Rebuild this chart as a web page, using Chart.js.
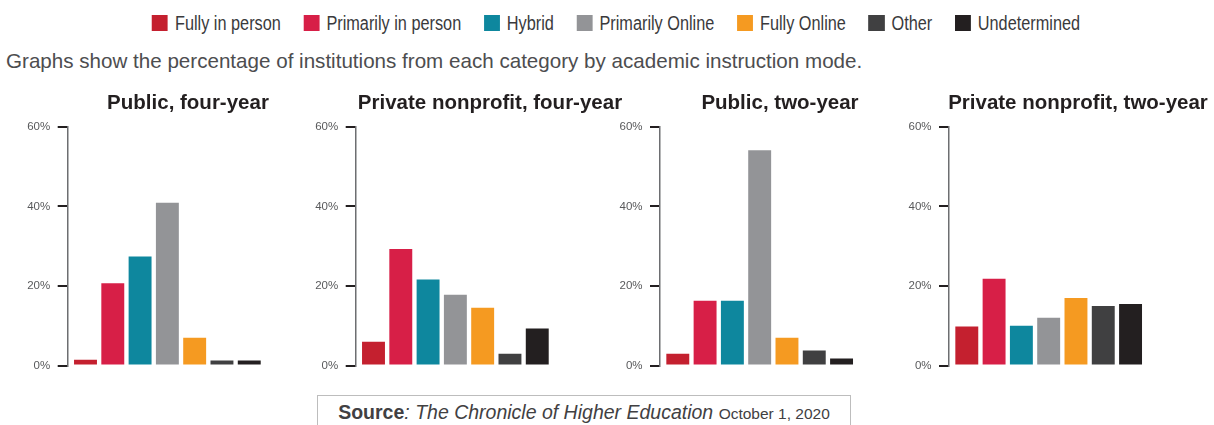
<!DOCTYPE html>
<html>
<head>
<meta charset="utf-8">
<script src="https://cdn.jsdelivr.net/npm/chart.js@4.4.1/dist/chart.umd.min.js"></script>
<style>
  html, body { margin: 0; padding: 0; background: #ffffff; width: 1214px; height: 425px; overflow: hidden; position: relative; }
  body { font-family: 'Liberation Sans', Arial, sans-serif; }
  #legend { position: absolute; top: 12px; left: 0; width: 1232px; display: flex; justify-content: center; align-items: center; gap: 27px; transform: scaleX(0.835); transform-origin: 50% 50%; }
  .item { display: flex; align-items: center; font-size: 19.5px; color: #3a3a3c; line-height: 22px; }
  .sw { width: 19.2px; height: 16px; margin-right: 8.4px; }
  #subtitle { position: absolute; left: 6px; top: 47px; font-size: 20.6px; color: #4d4d4f; line-height: 28px; white-space: nowrap; }
  .cw { position: absolute; top: 80px; height: 300px; }
  #source { position: absolute; left: 317px; top: 395px; width: 534px; height: 40px; border: 1.5px solid #bdbdbd; box-sizing: border-box; text-align: center; color: #414042; white-space: nowrap; }
  #source .t { position: relative; top: 5px; font-size: 19.5px; }
  #source b { font-weight: bold; }
  #source i { font-style: italic; }
  #source .d { font-size: 15.5px; }
</style>
</head>
<body>
<div id="legend"></div>
<div id="subtitle">Graphs show the percentage of institutions from each category by academic instruction mode.</div>
<div class="cw" style="left:0px;width:376px"><canvas id="c1"></canvas></div>
<div class="cw" style="left:300px;width:380px"><canvas id="c2"></canvas></div>
<div class="cw" style="left:600px;width:360px"><canvas id="c3"></canvas></div>
<div class="cw" style="left:900px;width:356px"><canvas id="c4"></canvas></div>
<div id="source"><span class="t"><b>Source</b><i>: The Chronicle of Higher Education</i> <span class="d">October 1, 2020</span></span></div>
<script>
// ---- data ----
const categories = ['Fully in person', 'Primarily in person', 'Hybrid', 'Primarily Online', 'Fully Online', 'Other', 'Undetermined'];
const colors = ['#C4202F', '#D71F47', '#0E879E', '#939497', '#F59A21', '#404041', '#231F20'];
const chartTitles = ['Public, four-year', 'Private nonprofit, four-year', 'Public, two-year', 'Private nonprofit, two-year'];
const publicFourYear = [1.5, 20.7, 27.4, 40.9, 7.0, 1.3, 1.3];
const privateFourYear = [6.0, 29.3, 21.6, 17.8, 14.5, 3.0, 9.3];
const publicTwoYear = [3.0, 16.3, 16.3, 54.1, 7.0, 3.8, 1.8];
const privateTwoYear = [9.8, 21.8, 10.0, 12.0, 17.0, 15.0, 15.5];
const yTicks = [0, 20, 40, 60];

const FONT = "'Liberation Sans', Arial, sans-serif";

// legend
const lg = document.getElementById('legend');
categories.forEach((c, i) => {
  const it = document.createElement('div'); it.className = 'item';
  const sw = document.createElement('span'); sw.className = 'sw'; sw.style.background = colors[i];
  const tx = document.createElement('span'); tx.textContent = c;
  it.appendChild(sw); it.appendChild(tx); lg.appendChild(it);
});

// layout per chart: [canvas id, left axis width, right spacer width]
const layouts = [
  ['c1', 67.7, 113.1],
  ['c2', 55.7, 129.1],
  ['c3', 60.0, 104.8],
  ['c4', 49.0, 111.8]
];
const series = [publicFourYear, privateFourYear, publicTwoYear, privateTwoYear];

series.forEach((vals, k) => {
  const [id, yW, rW] = layouts[k];
  new Chart(document.getElementById(id), {
    type: 'bar',
    data: {
      datasets: [{
        label: chartTitles[k],
        data: vals.map((v, i) => ({ x: i, y: v })),
        backgroundColor: colors,
        borderWidth: 0,
        barPercentage: 0.84,
        categoryPercentage: 1.0
      }]
    },
    options: {
      responsive: true,
      maintainAspectRatio: false,
      animation: false,
      layout: { padding: { top: 11, bottom: 14, left: 0, right: 0 } },
      plugins: {
        legend: { display: false },
        tooltip: { enabled: false },
        title: {
          display: true,
          text: chartTitles[k],
          color: '#231F20',
          font: { family: FONT, size: 20.5, weight: 'bold', lineHeight: 1.2 },
          padding: { top: 0, bottom: 11.1 }
        }
      },
      scales: {
        x: {
          type: 'linear', display: false, offset: false,
          min: -0.652, max: 6.5,
          ticks: { stepSize: 1, includeBounds: false }
        },
        y: {
          position: 'left',
          min: 0, max: 60,
          afterBuildTicks: s => { s.ticks = yTicks.map(v => ({ value: v })); },
          afterFit: s => { s.width = yW; },
          ticks: {
            callback: v => v + '%',
            color: '#58595B',
            font: { family: FONT, size: 11.5 },
            padding: 7.5
          },
          grid: { drawOnChartArea: false, drawTicks: true, tickLength: 10, color: '#231F20', lineWidth: 2 },
          border: { display: true, color: '#6D6E71', width: 1.5 }
        },
        spacer: {
          type: 'linear', position: 'right', display: true,
          grid: { display: false }, border: { display: false }, ticks: { display: false },
          afterFit: s => { s.width = rW; }
        }
      }
    }
  });
});
</script>
</body>
</html>
